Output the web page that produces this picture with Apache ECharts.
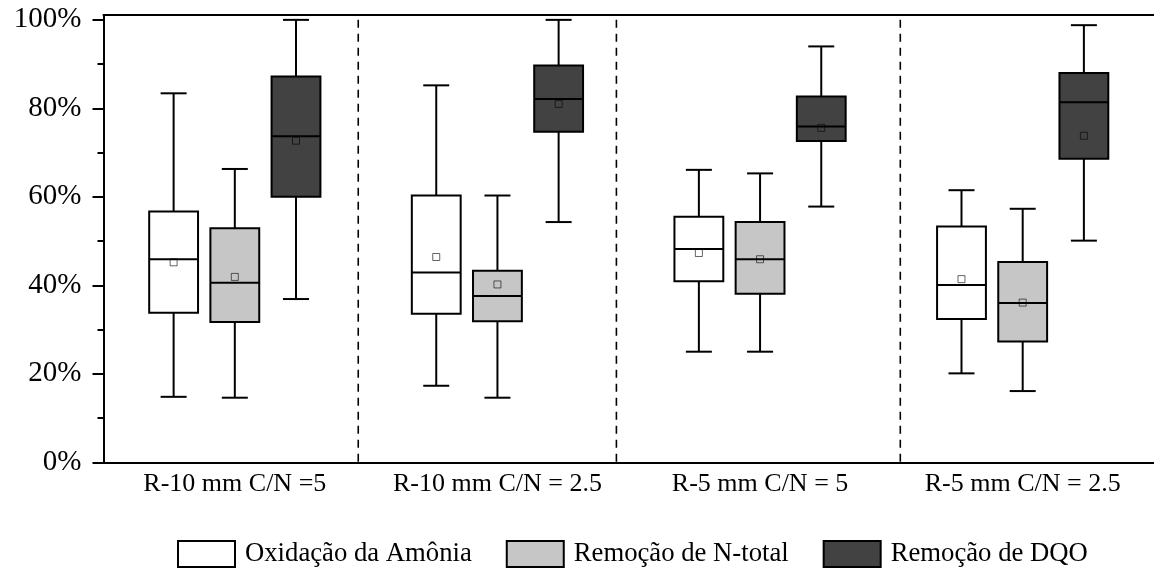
<!DOCTYPE html>
<html>
<head>
<meta charset="utf-8">
<style>
  html, body { margin: 0; padding: 0; background: #fff; }
  #chart { width: 1154px; height: 571px; }
</style>
<script src="https://cdn.jsdelivr.net/npm/echarts@6/dist/echarts.min.js"></script>
</head>
<body>
<div id="chart"></div>
<script>
// Reactor conditions on the x axis
const categories = ['R-10 mm C/N =5', 'R-10 mm C/N = 2.5', 'R-5 mm C/N = 5', 'R-5 mm C/N = 2.5'];

// Box statistics per condition: [min, Q1, median, Q3, max] in %
const amoniaBox = [
  [14.8, 33.8, 45.9, 56.7, 83.4],
  [17.3, 33.6, 42.9, 60.3, 85.2],
  [25.0, 40.9, 48.2, 55.5, 66.1],
  [20.1, 32.4, 40.1, 53.3, 61.5]
];
const amoniaMean = [45.2, 46.4, 47.3, 41.4];

const ntotalBox = [
  [14.6, 31.7, 40.6, 52.9, 66.3],
  [14.6, 31.9, 37.6, 43.3, 60.3],
  [25.0, 38.1, 45.9, 54.3, 65.3],
  [16.1, 27.3, 36.0, 45.3, 57.3]
];
const ntotalMean = [41.9, 40.2, 45.9, 36.1];

const dqoBox = [
  [36.9, 60.0, 73.7, 87.2, 100.0],
  [54.3, 74.7, 82.1, 89.7, 100.0],
  [57.8, 72.6, 75.9, 82.7, 94.0],
  [50.1, 68.6, 81.4, 88.0, 98.8]
];
const dqoMean = [72.7, 81.0, 75.6, 73.8];

const seriesNames = ['Oxidação da Amônia', 'Remoção de N-total', 'Remoção de DQO'];

// Y axis ticks
const majorTicks = [0, 20, 40, 60, 80, 100];
const minorTicks = [10, 30, 50, 70, 90];

// Separators between the conditions, in category-band units
const separatorPositions = [0.970, 1.953, 3.034];

const FONT = '"Liberation Serif", "Times New Roman", serif';
const Y_MAX = 101.1;
const BOX_FRAC = 0.186;   // box width as share of the category band
const CAP_FRAC = 0.099;   // whisker cap width as share of the band
const OFFSET_FRAC = 0.233; // side boxes shift from band centre

function toItems(box, mean) {
  return box.map((b, i) => [i, b[0], b[1], b[2], b[3], b[4], mean[i]]);
}

function makeRenderer(offsetFrac, fill) {
  return function (params, api) {
    const idx = api.value(0);
    const band = api.size([1, 0])[0];
    const cx = api.coord([idx, 0])[0] + band * offsetFrac;
    const half = band * BOX_FRAC / 2;
    const capHalf = band * CAP_FRAC / 2;
    const py = (v) => api.coord([idx, v])[1];
    const yMin = py(api.value(1));
    const yQ1 = py(api.value(2));
    const yMed = py(api.value(3));
    const yQ3 = py(api.value(4));
    const yMax = py(api.value(5));
    const yMean = py(api.value(6));
    const ln = { stroke: '#000', lineWidth: 2 };
    const sq = 7;
    return {
      type: 'group',
      children: [
        { type: 'line', shape: { x1: cx, y1: yQ3, x2: cx, y2: yMax }, style: ln },
        { type: 'line', shape: { x1: cx, y1: yQ1, x2: cx, y2: yMin }, style: ln },
        { type: 'line', shape: { x1: cx - capHalf, y1: yMax, x2: cx + capHalf, y2: yMax }, style: ln },
        { type: 'line', shape: { x1: cx - capHalf, y1: yMin, x2: cx + capHalf, y2: yMin }, style: ln },
        { type: 'rect', shape: { x: cx - half, y: yQ3, width: 2 * half, height: yQ1 - yQ3 },
          style: { fill: fill, stroke: '#000', lineWidth: 2 } },
        { type: 'line', shape: { x1: cx - half, y1: yMed, x2: cx + half, y2: yMed }, style: ln },
        { type: 'rect', shape: { x: cx - sq / 2, y: yMean - sq / 2, width: sq, height: sq },
          style: { fill: 'none', stroke: 'rgba(0,0,0,0.6)', lineWidth: 1 } }
      ]
    };
  };
}

const fills = ['#ffffff', '#c6c6c6', '#424242'];
const offsets = [-OFFSET_FRAC, 0, OFFSET_FRAC];
const datasets = [toItems(amoniaBox, amoniaMean), toItems(ntotalBox, ntotalMean), toItems(dqoBox, dqoMean)];

const boxSeries = seriesNames.map((name, k) => ({
  name: name,
  type: 'custom',
  xAxisIndex: 0,
  yAxisIndex: 0,
  itemStyle: { color: fills[k], borderColor: '#000', borderWidth: 2 },
  encode: { x: 0, y: [1, 2, 3, 4, 5, 6] },
  renderItem: makeRenderer(offsets[k], fills[k]),
  data: datasets[k],
  z: 3
}));

// Vertical dashed separators, drawn as broken line segments
const separatorData = [];
separatorPositions.forEach((p) => {
  separatorData.push([p, 100], [p, -0.8], [p, '-']);
});
const separatorSeries = {
  type: 'line',
  xAxisIndex: 1,
  yAxisIndex: 0,
  data: separatorData,
  symbol: 'none',
  silent: true,
  clip: false,
  connectNulls: false,
  lineStyle: { color: '#000', width: 1.6, type: [8, 6] },
  z: 2
};

const chart = echarts.init(document.getElementById('chart'), null, { renderer: 'canvas' });
chart.setOption({
  animation: false,
  backgroundColor: '#fff',
  textStyle: { fontFamily: FONT, color: '#000' },
  grid: { left: 103.5, top: 15, width: 1055, height: 447.3 },
  legend: {
    left: 177,
    top: 540,
    padding: 0,
    itemWidth: 57,
    itemHeight: 26,
    itemGap: 34,
    icon: 'rect',
    data: seriesNames,
    itemStyle: { borderColor: '#000', borderWidth: 2 },
    textStyle: { fontFamily: FONT, fontSize: 26.7, color: '#000', padding: [0, 0, 0, 5] }
  },
  xAxis: [
    {
      type: 'category',
      data: categories,
      position: 'bottom',
      axisLine: { lineStyle: { color: '#000', width: 2 } },
      axisTick: { show: false },
      axisLabel: { interval: 0, fontFamily: FONT, fontSize: 26, color: '#000', margin: 9 },
      splitLine: { show: false }
    },
    {
      type: 'value',
      min: 0,
      max: 4,
      position: 'top',
      axisLine: { show: true, onZero: false, lineStyle: { color: '#000', width: 2 } },
      axisTick: { show: false },
      axisLabel: { show: false },
      splitLine: { show: false }
    }
  ],
  yAxis: [
    {
      type: 'value',
      min: 0,
      max: Y_MAX,
      position: 'left',
      axisLine: { show: true, onZero: false, lineStyle: { color: '#000', width: 2 } },
      axisTick: { show: true, length: 11, customValues: majorTicks, lineStyle: { color: '#000', width: 2 } },
      axisLabel: {
        customValues: majorTicks,
        formatter: '{value}%',
        fontFamily: FONT, fontSize: 29, color: '#000', margin: 22
      },
      splitLine: { show: false }
    },
    {
      type: 'value',
      min: 0,
      max: Y_MAX,
      position: 'left',
      axisLine: { show: false },
      axisTick: { show: true, length: 6, customValues: minorTicks, lineStyle: { color: '#000', width: 2 } },
      axisLabel: { show: false },
      splitLine: { show: false }
    }
  ],
  series: boxSeries.concat([separatorSeries])
});
</script>
</body>
</html>
